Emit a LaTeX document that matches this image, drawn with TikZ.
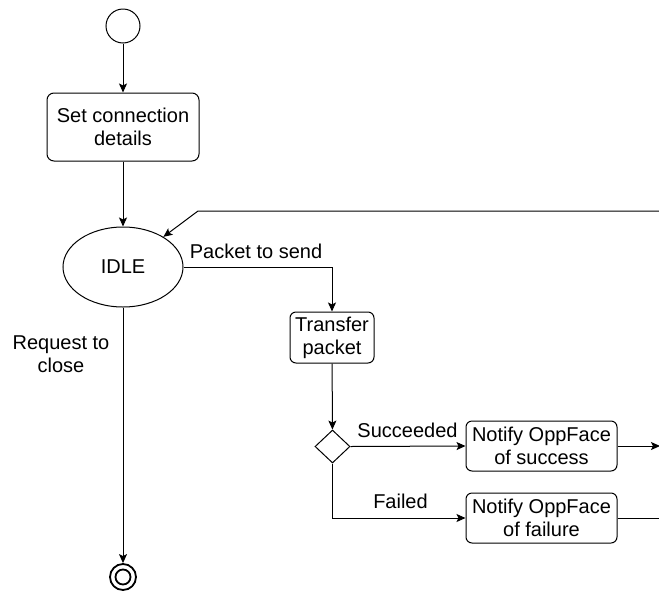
\documentclass[tikz,border=0pt]{standalone}
\usepackage{fontspec}
\setmainfont{Liberation Sans}
\usetikzlibrary{positioning,shapes.geometric,arrows.meta}

\begin{document}
\begin{tikzpicture}[
    x=1pt, y=-1pt,
    font=\fontsize{20}{23}\selectfont,
    line width=1pt,
    process/.style={
        rectangle,
        rounded corners=7pt,
        align=center,
        inner sep=0pt,
        draw=black
    },
    statenode/.style={
        ellipse,
        minimum width=120pt,
        minimum height=80pt,
        inner sep=0pt,
        draw=black
    },
    decision/.style={
        diamond,
        minimum width=35pt,
        minimum height=33pt,
        inner sep=0pt,
        draw=black
    },
    startnode/.style={
        circle,
        minimum size=34pt,
        inner sep=0pt,
        draw=black
    },
    endnode/.style={
        circle,
        minimum size=26pt,
        inner sep=0pt,
        line width=1.8pt,
        draw=black
    },
    lbl/.style={
        align=center,
        inner sep=0pt
    },
    arrow/.style={->, >={Stealth[length=9pt, width=8pt, inset=2pt]}}
]
\useasboundingbox (0,0) rectangle (659,590);

\node (start) [startnode] at (123,26) {};
\node (setconn) [process, minimum width=152pt, minimum height=68pt] at (123,127)
    {Set connection\\details};
\node (idle) [statenode] at (123,267) {IDLE};
\node (transfer) [process, rounded corners=6pt, minimum width=84pt, minimum height=51pt] at (332,337.5)
    {Transfer\\packet};
\node (check) [decision] at (332.5,446.5) {};
\node (notifyok) [process, rounded corners=6pt, minimum width=151pt, minimum height=50pt] at (541.5,446)
    {Notify OppFace\\of success};
\node (notifyfail) [process, rounded corners=6pt, minimum width=151pt, minimum height=50pt] at (541.5,518)
    {Notify OppFace\\of failure};
\node (stop) [endnode] at (123,577) {};
\node (stopin) [circle, minimum size=15pt, inner sep=0pt, line width=1.8pt, draw=black] at (stop) {};

% edge labels
\node (lblsend) [lbl] at (256,251) {Packet to send};
\node (lblok) [lbl] at (407.5,430) {Succeeded};
\node (lblfail) [lbl] at (400.5,501) {Failed};
\node (lblclose) [lbl] at (61,354) {Request to\\close};

% loose ends at the right border
\coordinate (loopin) at (662,211);
\coordinate (loopbend) at (198,211);
\coordinate (okout) at (660,446);
\coordinate (failout) at (662,518);

\draw [arrow] (start) -- (setconn);
\draw [arrow] (setconn) -- (idle);
\draw [arrow] (loopin) -- (loopbend) -- (idle);
\draw [arrow] (idle.east) -| (transfer.north);
\draw [arrow] (transfer) -- (check);
\draw [arrow] (check.east) -- (notifyok.west);
\draw [arrow] (check.south) |- (notifyfail.west);
\draw [arrow] (notifyok.east) -- (okout);
\draw (notifyfail.east) -- (failout);
\draw [arrow] (idle) -- (stop);

\end{tikzpicture}
\end{document}
